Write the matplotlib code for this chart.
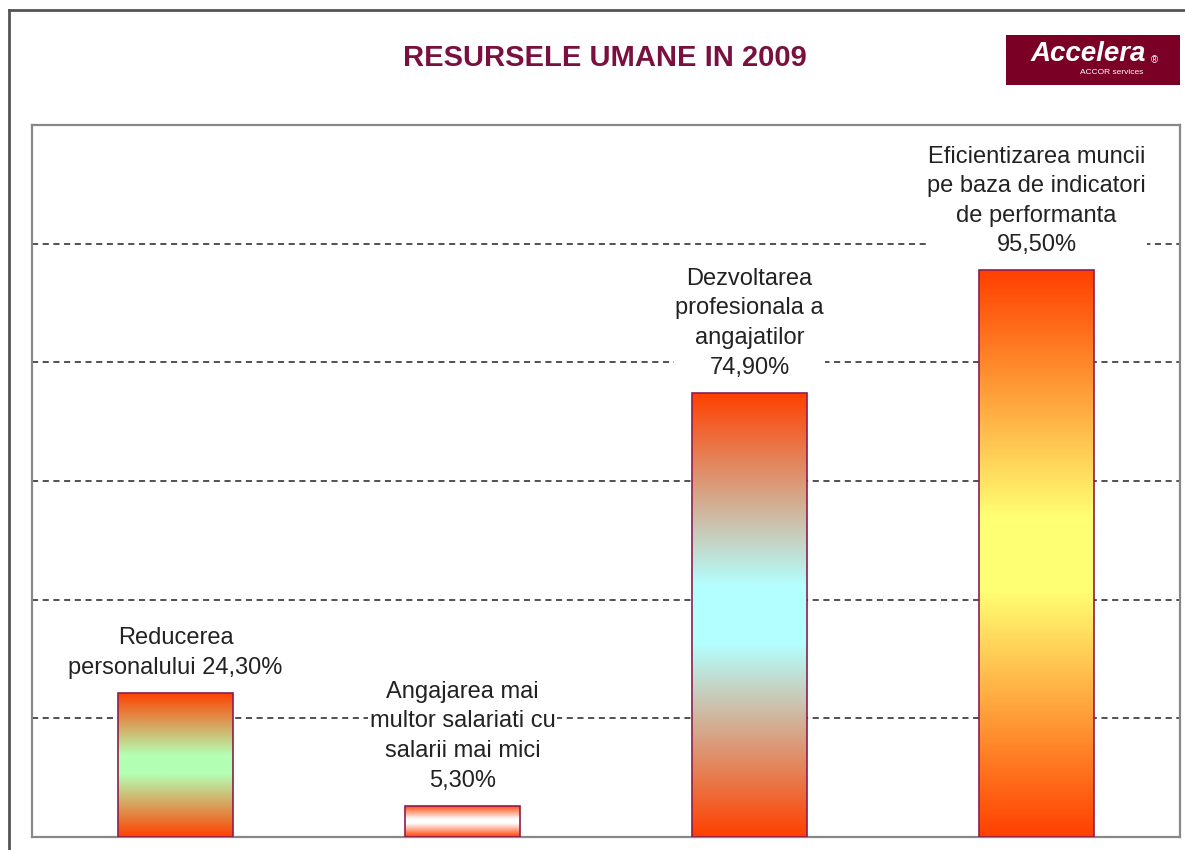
import numpy as np
import matplotlib
matplotlib.use('Agg')
import matplotlib.pyplot as plt
from matplotlib.patches import Rectangle
from matplotlib.lines import Line2D
from matplotlib.colors import to_rgb

# date
categorii = ['Reducerea\npersonalului 24,30%',
             'Angajarea mai\nmultor salariati cu\nsalarii mai mici\n5,30%',
             'Dezvoltarea\nprofesionala a\nangajatilor\n74,90%',
             'Eficientizarea muncii\npe baza de indicatori\nde performanta\n95,50%']
valori = [24.3, 5.3, 74.9, 95.5]
culori_mijloc = ['#b3ffb3', '#ffffff', '#b3ffff', '#ffff73']
rosu = '#ff4000'

plt.rcParams['font.family'] = ['Liberation Sans', 'DejaVu Sans']

fig = plt.figure(figsize=(11.85, 8.5), dpi=100)
ax = fig.add_axes([32 / 1185, 13 / 850, 1148 / 1185, 712 / 850])

x = np.arange(len(valori))
bars = ax.bar(x, valori, width=0.4, color='none', edgecolor='#8b1f4f', linewidth=1.2, zorder=4)

# gradient pe fiecare bara
for b, c in zip(bars, culori_mijloc):
    r = np.array(to_rgb(rosu))
    m = np.array(to_rgb(c))
    t = np.linspace(0, 1, 256)
    w = 1 - np.abs(2 * t - 1)  # 0 la capete, 1 la mijloc
    w = np.clip(w * 1.15, 0, 1)
    img = r[None, :] * (1 - w[:, None]) + m[None, :] * w[:, None]
    img = img[:, None, :]
    x0 = b.get_x()
    im = ax.imshow(img, extent=[x0, x0 + b.get_width(), 0, b.get_height()],
                   aspect='auto', origin='lower', zorder=3, interpolation='bilinear')
    clip = Rectangle((x0, 0), b.get_width(), b.get_height(), transform=ax.transData)
    im.set_clip_path(clip)

for xi, v, lab in zip(x, valori, categorii):
    ax.annotate(lab, (xi, v), xytext=(0, 10), textcoords='offset points',
                ha='center', va='bottom', fontsize=17, color='#222222',
                linespacing=1.45, zorder=5,
                bbox=dict(facecolor='white', edgecolor='none', pad=1))

ax.set_xlim(-0.5, 3.5)
ax.set_ylim(0, 120)
ax.set_yticks([20, 40, 60, 80, 100])
ax.yaxis.grid(True, linestyle=(0, (4, 3)), color='#222222', linewidth=1.1)
ax.set_axisbelow(True)
ax.set_xticks([])
ax.tick_params(axis='y', length=0, labelleft=False)
for s in ax.spines.values():
    s.set_color('#888888')
    s.set_linewidth(1.6)

# chenar exterior
fig.add_artist(Line2D([9 / 1185, 9 / 1185], [0, 840 / 850], color='#555555', lw=2))
fig.add_artist(Line2D([9 / 1185, 1], [840 / 850, 840 / 850], color='#555555', lw=2))

# titlu
fig.text(605 / 1185, 1 - 58 / 850, 'RESURSELE UMANE IN 2009', ha='center', va='center',
         fontsize=21, fontweight='bold', color='#7a1040')

# logo
fig.add_artist(Rectangle((1006 / 1185, 1 - 85 / 850), 174 / 1185, 50 / 850,
                         transform=fig.transFigure, facecolor='#7a0026', edgecolor='none'))
fig.text(1088 / 1185, 1 - 54 / 850, 'Accelera', ha='center', va='center',
         fontsize=20, fontstyle='italic', fontweight='bold', color='white')
fig.text(1154 / 1185, 1 - 60 / 850, '®', ha='center', va='center', fontsize=7, color='white')
fig.text(1112 / 1185, 1 - 72 / 850, 'ACCOR services', ha='center', va='center',
         fontsize=6, color='white')

fig.savefig('out.png', dpi=100)
